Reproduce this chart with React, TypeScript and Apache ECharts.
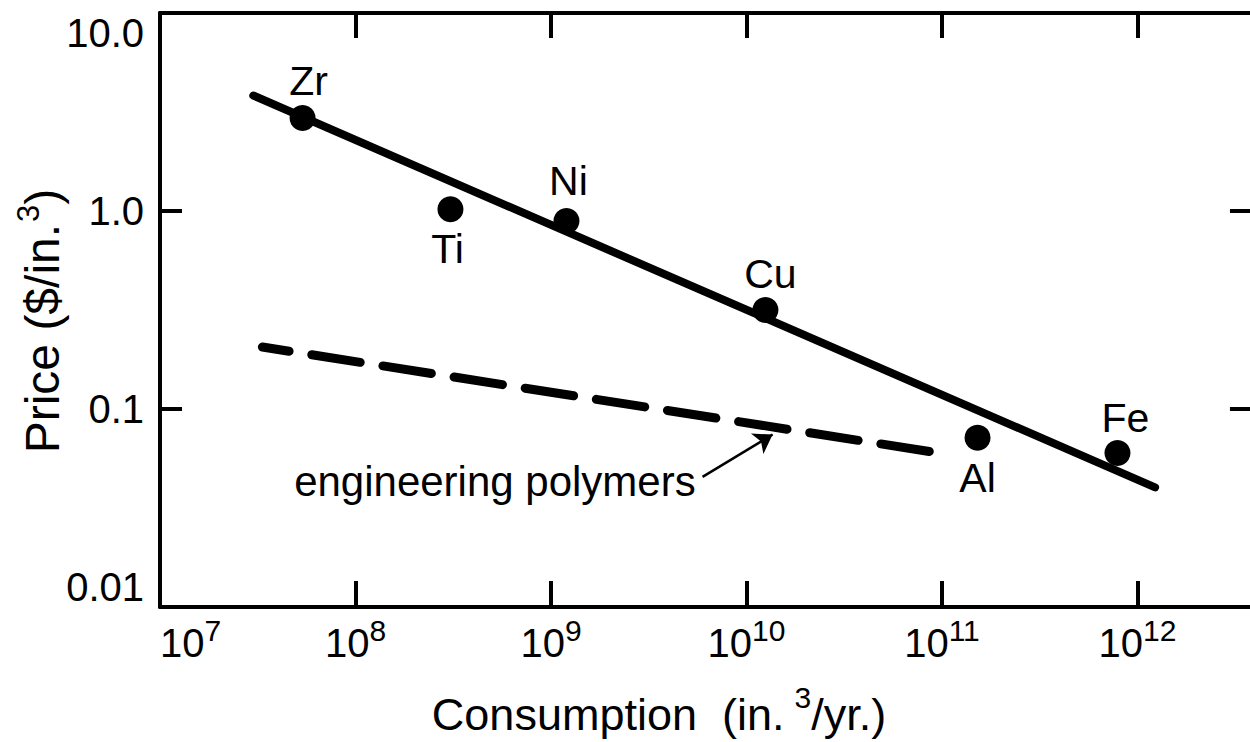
import React, { useEffect, useRef } from 'react';
import * as echarts from 'echarts';

// ---- data ----
const xTickValues = [1e7, 1e8, 1e9, 1e10, 1e11, 1e12];
const yTickValues = [0.01, 0.1, 1, 10];
const yTickLabels = ['0.01', '0.1', '1.0', '10.0'];
const rightTickValues = [1, 0.1];

const metalNames = ['Zr', 'Ti', 'Ni', 'Cu', 'Al', 'Fe'];
const metalConsumption = [5.36e7, 3.06e8, 1.2e9, 1.25e10, 1.52e11, 7.9e11];
const metalPrice = [2.95, 1.02, 0.89, 0.316, 0.0715, 0.06];

const metalTrendConsumption = [3.0e7, 1.23e12];
const metalTrendPrice = [3.83, 0.0402];

const polymerTrendConsumption = [3.34e7, 9.6e10];
const polymerTrendPrice = [0.2056, 0.06];

const arrowConsumption = [5.96e9, 1.36e10];
const arrowPrice = [0.0454, 0.0743];
const polymerLabel = 'engineering polymers';

const xTitle = ['Consumption  (in.', '3', '/yr.)'];
const yTitle = ['Price ($/in.', '3', ')'];

// ---- styles ----
const FONT = '"Liberation Sans", Arial, Helvetica, sans-serif';
const INK = '#000';
const labelOffsets: Record<string, number[]> = {
  Zr: [6, -37],
  Ti: [-3, 40],
  Ni: [2, -40],
  Cu: [5, -36],
  Al: [0, 40],
  Fe: [8, -35],
};

// the chart canvas is wider than the window; the plot frame runs off its right edge
const CANVAS_W = 1300;
const GRID_RIGHT = 20;
const X_MIN = 1e7;
const X_MAX_EXP = 12.729;
const X_MAX = Math.pow(10, X_MAX_EXP);
const RIGHT_TICK_START = Math.pow(10, 12.473);

function xLabel(v: number) {
  const e = Math.round(Math.log10(v));
  return `{b|10}{s|${e}}`;
}

function yLabel(v: number) {
  const l = Math.log10(v);
  const idx = yTickValues.findIndex((t) => Math.abs(Math.log10(t) - l) < 1e-6);
  return idx >= 0 ? yTickLabels[idx] : '';
}

const axisLineStyle = { color: INK, width: 4 };

const option: any = {
  animation: false,
  backgroundColor: '#fff',
  textStyle: { fontFamily: FONT, color: INK },
  grid: { left: 160, right: GRID_RIGHT, top: 13, bottom: 135, containLabel: false, outerBoundsMode: 'none' },
  xAxis: [
    {
      type: 'log',
      logBase: 10,
      min: X_MIN,
      max: X_MAX,
      position: 'bottom',
      axisLine: { show: true, lineStyle: axisLineStyle },
      axisTick: { show: true, inside: true, length: 26, lineStyle: axisLineStyle, customValues: xTickValues },
      minorTick: { show: false },
      splitLine: { show: false },
      axisLabel: {
        show: true,
        margin: 16,
        customValues: xTickValues,
        formatter: xLabel,
        alignMinLabel: 'left',
        color: INK,
        fontFamily: FONT,
        rich: {
          b: { fontSize: 40, fontFamily: FONT, color: INK, lineHeight: 40 },
          s: { fontSize: 30, fontFamily: FONT, color: INK, lineHeight: 40, padding: [0, 0, 25, 0] },
        },
      },
    },
    {
      type: 'log',
      logBase: 10,
      min: X_MIN,
      max: X_MAX,
      position: 'top',
      axisLine: { show: true, lineStyle: axisLineStyle },
      axisTick: { show: true, inside: true, length: 25, lineStyle: axisLineStyle, customValues: xTickValues },
      minorTick: { show: false },
      splitLine: { show: false },
      axisLabel: { show: false },
    },
  ],
  yAxis: [
    {
      type: 'log',
      logBase: 10,
      min: 0.01,
      max: 10,
      position: 'left',
      axisLine: { show: true, lineStyle: axisLineStyle },
      axisTick: { show: true, inside: true, length: 22, lineStyle: axisLineStyle },
      minorTick: { show: false },
      splitLine: { show: false },
      axisLabel: {
        show: true,
        margin: 16,
        formatter: yLabel,
        fontSize: 40,
        color: INK,
        fontFamily: FONT,
        verticalAlignMinLabel: 'bottom',
        verticalAlignMaxLabel: 'top',
      },
    },
  ],
  series: [
    {
      type: 'line',
      name: 'metals trend',
      data: metalTrendConsumption.map((x, i) => [x, metalTrendPrice[i]]),
      symbol: 'none',
      lineStyle: { color: INK, width: 8, cap: 'round' },
      z: 3,
      silent: true,
      markLine: {
        silent: true,
        symbol: ['none', 'none'],
        lineStyle: { color: INK, width: 4, type: 'solid' },
        label: { show: false },
        data: rightTickValues.map((v) => [{ coord: [RIGHT_TICK_START, v] }, { coord: [X_MAX, v] }]),
      },
    },
    {
      type: 'line',
      name: 'engineering polymers',
      data: polymerTrendConsumption.map((x, i) => [x, polymerTrendPrice[i]]),
      symbol: 'none',
      lineStyle: { color: INK, width: 9, cap: 'round', type: [49, 23], dashOffset: 22 },
      z: 3,
      silent: true,
      markLine: {
        silent: true,
        symbol: ['none', 'arrow'],
        symbolSize: 18,
        lineStyle: { color: INK, width: 2.5, type: 'solid' },
        label: {
          show: true,
          position: 'start',
          formatter: () => polymerLabel,
          fontSize: 42,
          fontFamily: FONT,
          color: INK,
          distance: 8,
          padding: [0, 0, 14, 0],
        },
        data: [
          [
            { coord: [arrowConsumption[0], arrowPrice[0]] },
            { coord: [arrowConsumption[1], arrowPrice[1]] },
          ],
        ],
      },
    },
    {
      type: 'scatter',
      name: 'metals',
      symbol: 'circle',
      symbolSize: 26,
      itemStyle: { color: INK, opacity: 1 },
      z: 5,
      data: metalNames.map((n, i) => ({
        name: n,
        value: [metalConsumption[i], metalPrice[i]],
        label: {
          show: true,
          formatter: n,
          position: 'inside',
          offset: labelOffsets[n],
          fontSize: 41,
          fontFamily: FONT,
          color: INK,
          align: 'center',
          verticalAlign: 'middle',
        },
      })),
    },
  ],
  graphic: [
    {
      type: 'text',
      x: 659,
      y: 714,
      silent: true,
      style: {
        text: `{b|${xTitle[0]}}{s|${xTitle[1]}}{b|${xTitle[2]}}`,
        align: 'center',
        verticalAlign: 'middle',
        fill: INK,
        rich: {
          b: { fontSize: 45, fontFamily: FONT, fill: INK, lineHeight: 45 },
          s: { fontSize: 30, fontFamily: FONT, fill: INK, lineHeight: 45, padding: [0, 0, 33, 10] },
        },
      },
    },
    {
      type: 'text',
      x: 42,
      y: 321,
      rotation: Math.PI / 2,
      silent: true,
      style: {
        text: `{b|${yTitle[0]}}{s|${yTitle[1]}}{b|${yTitle[2]}}`,
        align: 'center',
        verticalAlign: 'middle',
        fill: INK,
        rich: {
          b: { fontSize: 48, fontFamily: FONT, fill: INK, lineHeight: 48 },
          s: { fontSize: 31, fontFamily: FONT, fill: INK, lineHeight: 48, padding: [0, 0, 27, 2] },
        },
      },
    },
  ],
};

export default function App() {
  const ref = useRef<HTMLDivElement>(null);
  useEffect(() => {
    if (!ref.current) return;
    const chart = echarts.init(ref.current, null, { renderer: 'svg' });
    chart.setOption(option);
    return () => chart.dispose();
  }, []);
  return (
    <div style={{ position: 'fixed', left: 0, top: 0, width: 1250, height: 742, overflow: 'hidden', background: '#fff' }}>
      <div ref={ref} style={{ width: CANVAS_W, height: 742 }} />
    </div>
  );
}
